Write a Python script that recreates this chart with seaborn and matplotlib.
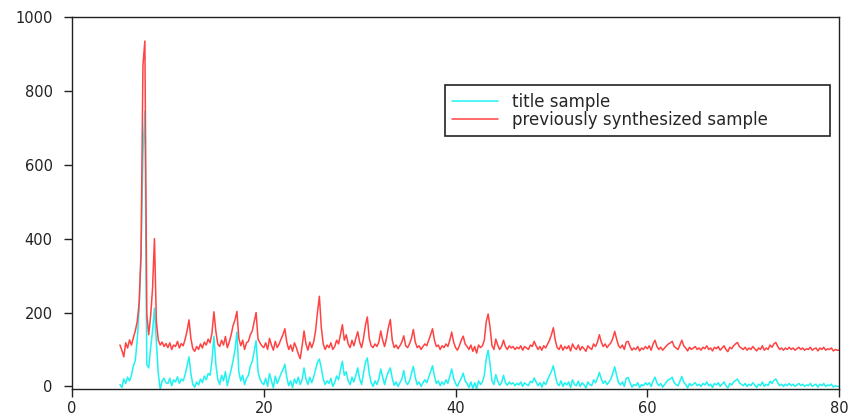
import matplotlib
matplotlib.use("Agg")
import matplotlib.pyplot as plt
import numpy as np
import pandas as pd
import seaborn as sns

# 2-theta grid: 5 to 80 degrees, 0.2 degree step (25 points per row below)
two_theta = np.round(np.arange(5.0, 80.01, 0.2), 1)

# intensities, one row = 5 degrees
title_sample = [
    5, -3, 20, 8, 25, 15, 30, 55, 70, 125, 210, 355, 630, 745, 60, 50, 105, 150, 212, 120, 35, -8, 15, 22, 10,
    8, 22, 2, 18, 12, 26, 8, 20, 15, 32, 55, 80, 35, 5, -2, 12, 4, 20, 10, 28, 18, 35, 30, 70, 135,
    60, 20, 5, 30, 15, 40, 2, 25, 45, 70, 100, 147, 40, 15, 30, 5, 22, 30, 55, 68, 95, 124, 40, 20, 10,
    5, 22, 0, 35, 15, -4, 28, 8, 20, 35, 45, 60, 25, 2, 15, -3, 20, 8, 25, 5, 18, 50, 20, 5, 25,
    10, 25, 45, 65, 74, 50, 20, 5, 15, 8, 22, 0, 10, 28, 18, 45, 68, 30, 40, 15, 5, 25, 12, 30, 50,
    20, 5, 35, 65, 77, 35, 10, 0, 15, 5, 20, 47, 25, 5, 25, 40, 50, 22, 3, 12, 0, 10, 20, 43, 12,
    5, 15, 35, 54, 25, 5, 12, 0, 10, 18, 10, 25, 40, 56, 28, 8, 15, 2, 12, 5, 18, 8, 28, 47, 22,
    8, 0, 12, 22, 36, 15, 8, -3, 12, -5, 10, -6, 15, 5, 12, 30, 75, 98, 60, 15, 5, 32, 15, 3, 10,
    30, 10, 3, 12, 6, 10, 2, 8, 4, 12, 0, 10, 5, 2, 14, 10, 23, 12, 2, 10, -2, 12, 5, 18, 30,
    40, 56, 30, 8, 2, 15, 0, 10, 4, 12, -3, 18, 5, 2, 14, 0, 10, 4, -4, 12, 5, 2, 18, 10, 22,
    38, 20, 8, 15, 5, 12, 20, 35, 53, 30, 10, 4, 12, 0, 22, 24, 10, -2, 5, 2, 10, -3, 5, 2, 10,
    4, 10, 0, 15, 25, 10, 2, 8, -2, 5, 12, 18, 20, 25, 10, 5, 2, 14, 27, 12, 5, -4, 8, 2, 6,
    10, 2, 6, 0, 8, 4, 12, 2, 6, -3, 8, 4, 10, 0, 6, 12, 2, -4, 8, 4, 12, 16, 20, 10, 6,
    2, 8, 0, 6, 2, 10, 4, -3, 6, 2, 12, 0, 6, 2, 14, 8, 16, 20, 10, 2, 6, 0, 6, 2, 8,
    2, 6, 0, 4, 8, 2, 6, 0, 4, 2, 8, 0, 4, 6, -2, 6, 2, 8, 0, 4, 2, 6, -2, 2, 0,
    0,
]

previous_sample = [
    112, 98, 80, 118, 104, 126, 112, 132, 150, 175, 225, 360, 870, 935, 195, 140, 190, 265, 400, 175, 125, 112, 120, 108, 116,
    105, 118, 100, 112, 108, 122, 104, 116, 110, 128, 150, 180, 130, 102, 95, 108, 100, 115, 104, 120, 112, 128, 118, 145, 202,
    150, 115, 108, 125, 112, 135, 105, 120, 140, 165, 180, 203, 130, 110, 125, 100, 118, 122, 140, 150, 175, 200, 128, 118, 110,
    105, 118, 100, 130, 112, 98, 122, 105, 115, 128, 140, 156, 120, 100, 112, 95, 118, 105, 88, 75, 110, 150, 115, 98, 120,
    105, 120, 150, 200, 244, 160, 115, 100, 112, 105, 118, 100, 108, 125, 115, 140, 167, 125, 140, 115, 105, 125, 110, 130, 148,
    120, 105, 130, 165, 188, 130, 110, 105, 115, 108, 120, 150, 125, 108, 130, 160, 181, 125, 105, 112, 102, 110, 120, 137, 110,
    105, 115, 130, 154, 120, 105, 110, 100, 108, 115, 110, 125, 140, 156, 125, 108, 112, 100, 110, 105, 115, 108, 125, 147, 120,
    105, 98, 110, 125, 136, 115, 108, 100, 112, 95, 108, 90, 112, 105, 110, 125, 175, 196, 160, 110, 100, 128, 112, 100, 108,
    125, 108, 100, 110, 104, 108, 100, 106, 102, 110, 98, 108, 104, 100, 112, 108, 122, 110, 100, 108, 98, 110, 104, 115, 125,
    140, 159, 125, 105, 100, 112, 98, 108, 102, 110, 96, 115, 105, 100, 112, 98, 108, 102, 95, 110, 104, 100, 115, 108, 120,
    140, 120, 108, 115, 105, 112, 118, 130, 149, 128, 110, 104, 112, 100, 120, 122, 108, 98, 104, 100, 108, 96, 104, 100, 108,
    102, 110, 98, 115, 125, 108, 100, 106, 98, 104, 110, 115, 118, 122, 108, 104, 100, 112, 125, 110, 104, 96, 106, 100, 104,
    108, 100, 104, 98, 106, 102, 110, 100, 104, 96, 106, 102, 108, 98, 104, 110, 100, 94, 106, 102, 110, 115, 119, 108, 104,
    100, 106, 98, 104, 100, 108, 102, 96, 104, 100, 110, 98, 104, 100, 112, 106, 115, 119, 108, 100, 104, 98, 104, 100, 106,
    100, 104, 98, 102, 106, 100, 104, 98, 102, 100, 106, 98, 102, 104, 96, 104, 100, 106, 98, 102, 100, 104, 96, 100, 98,
    98,
]

labels = ["title sample", "previously synthesized sample"]
colors = {"title sample": "#1ff2f2", "previously synthesized sample": "#ff4242"}

df = pd.concat([
    pd.DataFrame({"two_theta": two_theta, "intensity": title_sample, "sample": labels[0]}),
    pd.DataFrame({"two_theta": two_theta, "intensity": previous_sample, "sample": labels[1]}),
])

sns.set_style("ticks")
plt.rcParams["font.family"] = ["DejaVu Sans"]

fig = plt.figure(figsize=(8.51, 4.18), dpi=100)
ax = fig.add_axes([0.0846, 0.0694, 0.9014, 0.8899])

sns.lineplot(
    data=df,
    x="two_theta",
    y="intensity",
    hue="sample",
    hue_order=labels,
    palette=colors,
    estimator=None,
    sort=False,
    linewidth=1.1,
    ax=ax,
)

ax.set_xlim(0, 80)
ax.set_ylim(-7, 1000)
ax.set_xticks([0, 20, 40, 60, 80])
ax.set_yticks([0, 200, 400, 600, 800, 1000])
ax.set_xlabel("")
ax.set_ylabel("")
ax.tick_params(axis="both", length=6, width=1, labelsize=10.5, colors="#222222")
ax.tick_params(axis="y", pad=8)
ax.tick_params(axis="x", pad=3)
for s in ax.spines.values():
    s.set_color("#222222")
    s.set_linewidth(1)

ax.legend(
    loc="upper left",
    bbox_to_anchor=(0.486, 0.675, 0.502, 0.142),
    mode="expand",
    borderaxespad=0,
    fontsize=12,
    frameon=True,
    fancybox=False,
    edgecolor="#222222",
    framealpha=1,
    handlelength=2.75,
    handletextpad=0.85,
    labelspacing=0.0,
    borderpad=0.45,
)
ax.get_legend().get_frame().set_linewidth(1.2)

fig.savefig("out.png", dpi=100)
